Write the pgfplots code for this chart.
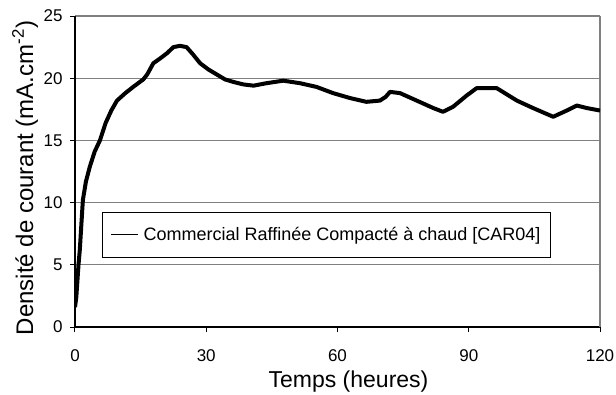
\documentclass[border=0pt]{standalone}
\usepackage{pgfplots}
\pgfplotsset{compat=1.18}
\usepackage{fontspec}
\setmainfont{Liberation Sans}
\begin{document}
\begin{tikzpicture}
\begin{axis}[
    scale only axis,
    width=525pt, height=311pt,
    xmin=0, xmax=120,
    ymin=0, ymax=25,
    xtick={0,30,60,90,120},
    ytick={0,5,10,15,20,25},
    axis x line*=bottom,
    axis y line*=left,
    axis line style={black, line width=1.2pt},
    tick align=outside,
    major tick length=5pt,
    tick style={black, line width=1pt},
    ymajorgrids=true,
    grid style={gray, line width=1.2pt},
    extra x ticks={120},
    extra x tick labels={},
    extra x tick style={xmajorgrids=true, major tick length=0pt},
    /pgf/number format/assume math mode=true,
    tick label style={font=\fontsize{17}{17}\selectfont},
    xticklabel style={yshift=-14pt},
    yticklabel style={xshift=-4pt},
    xlabel={Temps (heures)},
    ylabel={Densité de courant (mA.cm\textsuperscript{-2})},
    xlabel style={font=\fontsize{23}{23}\selectfont,
        at={(axis description cs:0.521,-0.174)}, anchor=center},
    ylabel style={font=\fontsize{24}{24}\selectfont,
        at={(axis description cs:-0.095,0.479)}, anchor=center},
    legend style={at={(rel axis cs:0.0514,0.370)}, anchor=north west,
        draw=black, line width=1pt, fill=white,
        inner xsep=8pt, inner ysep=13pt,
        font=\fontsize{18}{18}\selectfont},
    legend image code/.code={\draw[black, line width=1.2pt] (0pt,0pt) -- (27pt,0pt);},
    legend cell align=left,
]
\addplot[black, line width=4pt, line join=round, forget plot] coordinates {
(0,1.6)(0.3,2.4)(0.8,5.0)(1.1,6.2)(1.5,8.5)(1.8,10.2)(2.5,11.7)(3.4,12.9)
(4.5,14.1)(5.7,15.0)(7,16.4)(8.3,17.4)(9.6,18.2)(11.5,18.8)(13.3,19.3)
(15.6,19.9)(16.5,20.3)(17.9,21.2)(19.5,21.6)(21,22.0)(22.5,22.5)(24,22.6)
(25.5,22.5)(27,21.9)(28.6,21.2)(30.5,20.7)(32.4,20.3)(34.3,19.9)(36.2,19.7)
(38.5,19.5)(40.8,19.4)(43.8,19.6)(47.6,19.8)(51.4,19.6)(55.2,19.3)(59,18.8)
(62.9,18.4)(66.6,18.1)(69.7,18.2)(71,18.5)(72,18.9)(74.3,18.8)(78.1,18.2)
(81.9,17.6)(84.1,17.3)(86.4,17.7)(89.5,18.6)(91.8,19.2)(96.4,19.2)(101,18.2)
(104.7,17.6)(109.3,16.9)(112.4,17.4)(114.7,17.8)(117,17.6)(120,17.4)
};
\addlegendimage{black, line width=1.2pt}
\addlegendentry{\hspace{3pt}Commercial Raffinée Compacté à chaud [CAR04]\hspace{5pt}}
\end{axis}
\pgfresetboundingbox
\path (-75pt,-67pt) rectangle (541pt,327pt);
\end{tikzpicture}
\end{document}
